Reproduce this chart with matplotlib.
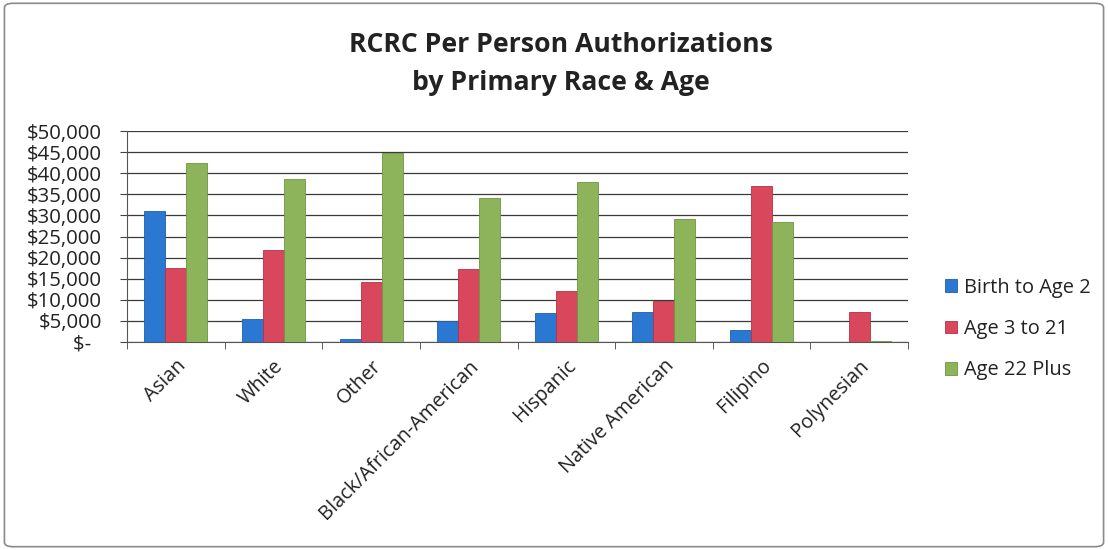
import matplotlib
matplotlib.use("Agg")
import matplotlib.pyplot as plt
import numpy as np
from matplotlib.patches import FancyBboxPatch
from matplotlib.ticker import FuncFormatter, FixedLocator

categories = ["Asian", "White", "Other", "Black/African-American", "Hispanic",
              "Native American", "Filipino", "Polynesian"]
series_names = ["Birth to Age 2", "Age 3 to 21", "Age 22 Plus"]
birth_to_2 = [31000, 5400, 600, 5000, 6900, 7200, 2900, 0]
age_3_21 = [17500, 21800, 14100, 17400, 12100, 9800, 36900, 7000]
age_22_plus = [42300, 38700, 44900, 34100, 38000, 29200, 28400, 150]
y_ticks = list(range(0, 50001, 5000))

colors = ["#2a78d2", "#d9475c", "#8db45a"]
edge_colors = ["#1f5fa8", "#b83046", "#6f9443"]

plt.rcParams['font.family'] = ['Open Sans', 'DejaVu Sans']

fig = plt.figure(figsize=(11.08, 5.5), dpi=100)
ax = fig.add_axes([127/1108, 1 - 342/550, (908-127)/1108, (342-131)/550])

x = np.arange(len(categories))
w = 0.215
for i, vals in enumerate([birth_to_2, age_3_21, age_22_plus]):
    ax.bar(x + (i - 1) * w, vals, width=w, color=colors[i], edgecolor=edge_colors[i],
           linewidth=0.6, label=series_names[i], zorder=3)

ax.set_xlim(-0.5, len(categories) - 0.5)
ax.set_ylim(0, 50000)
ax.yaxis.set_major_locator(FixedLocator(y_ticks))

def fmt(v, pos):
    if v == 0:
        return "$-  "
    return "${:,.0f}".format(v)
ax.yaxis.set_major_formatter(FuncFormatter(fmt))

ax.grid(axis='y', color='#3a3a3a', linewidth=0.9, zorder=0)
ax.set_axisbelow(True)
for s in ['top', 'right']:
    ax.spines[s].set_visible(False)
ax.spines['left'].set_color('#555555')
ax.spines['bottom'].set_color('#555555')

ax.set_xticks(x)
ax.set_xticklabels(categories, rotation=45, ha='right', va='top', rotation_mode='anchor',
                   fontsize=14.3, color='#222222')
ax.tick_params(axis='x', length=0, pad=10)
ax.set_xticks(np.arange(-0.5, len(categories), 1.0), minor=True)
ax.tick_params(axis='x', which='minor', length=5, color='#444444', direction='out')
ax.tick_params(axis='y', length=5, color='#444444', direction='out', labelsize=14.7,
               labelcolor='#222222', pad=13)

fig.text(0.506, 0.918, "RCRC Per Person Authorizations", ha='center', va='center',
         fontsize=19.2, fontweight='bold', color='#222222')
fig.text(0.506, 0.849, "by Primary Race & Age", ha='center', va='center',
         fontsize=19.2, fontweight='bold', color='#222222')

leg = ax.legend(loc='center left', bbox_to_anchor=((945-127)/781, (342-329)/211),
                frameon=False, borderaxespad=0, borderpad=0,
                fontsize=14.4, handlelength=0.6, handleheight=0.6, handletextpad=0.35,
                labelspacing=1.07)
for t in leg.get_texts():
    t.set_color('#222222')

border = FancyBboxPatch((0.004, 0.006), 0.992, 0.988, boxstyle="round,pad=0,rounding_size=0.008",
                        transform=fig.transFigure, fill=False, edgecolor='#8a8a8a', linewidth=1.2)
fig.patches.append(border)

fig.savefig("out.png", dpi=100)
